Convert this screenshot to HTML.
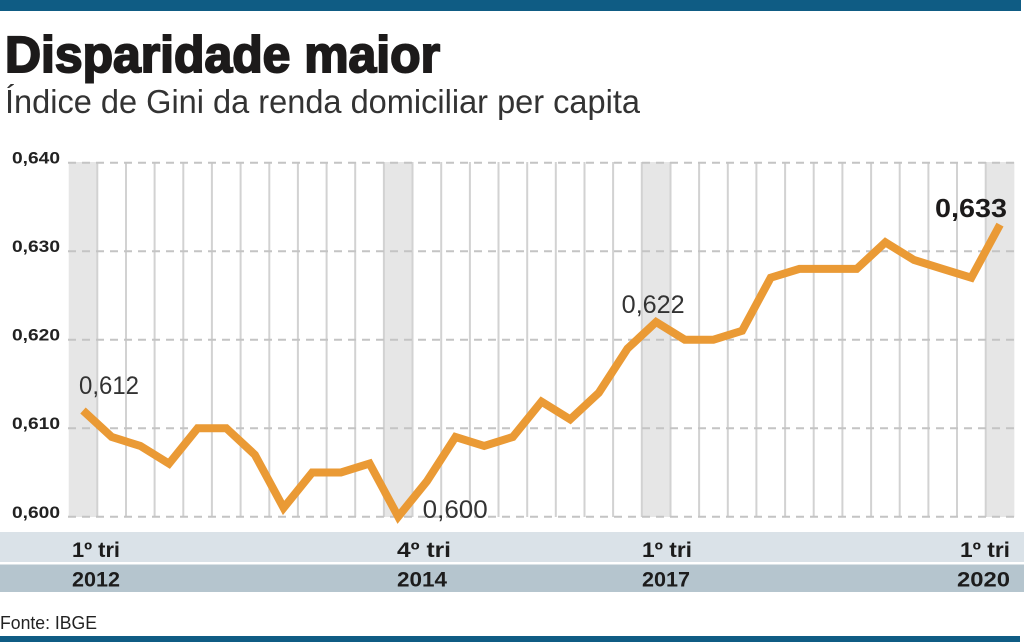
<!DOCTYPE html>
<html>
<head>
<meta charset="utf-8">
<style>
  html, body { margin:0; padding:0; background:#fff; }
  body { width:1024px; height:642px; overflow:hidden; }
  svg { display:block; }
  text { font-family: "Liberation Sans", "DejaVu Sans", sans-serif; }
</style>
</head>
<body>
<svg width="1024" height="642" viewBox="0 0 1024 642" xmlns="http://www.w3.org/2000/svg">
  <rect x="0" y="0" width="1024" height="642" fill="#ffffff"/>
  <!-- top bar -->
  <rect x="0" y="0" width="1021" height="11" fill="#0f5c84"/>

  <!-- title -->
  <text x="5" y="72" font-size="51" font-weight="bold" fill="#1c1a1a" stroke="#1c1a1a" stroke-width="2" textLength="435" lengthAdjust="spacingAndGlyphs">Disparidade maior</text>
  <text x="5" y="113" font-size="33" fill="#333" textLength="635" lengthAdjust="spacingAndGlyphs">Índice de Gini da renda domiciliar per capita</text>

  <!-- highlighted bands -->
  <g fill="#e6e6e6">
    <rect x="68.7" y="162" width="28.66" height="355"/>
    <rect x="383.9" y="162" width="28.66" height="355"/>
    <rect x="641.8" y="162" width="28.66" height="355"/>
    <rect x="985.7" y="162" width="28.66" height="355"/>
  </g>

  <!-- vertical grid lines -->
  <g stroke="#d2d2d2" stroke-width="2">
    <line x1="97.3" y1="162" x2="97.3" y2="517"/>
    <line x1="126.0" y1="162" x2="126.0" y2="517"/>
    <line x1="154.6" y1="162" x2="154.6" y2="517"/>
    <line x1="183.3" y1="162" x2="183.3" y2="517"/>
    <line x1="211.9" y1="162" x2="211.9" y2="517"/>
    <line x1="240.6" y1="162" x2="240.6" y2="517"/>
    <line x1="269.3" y1="162" x2="269.3" y2="517"/>
    <line x1="297.9" y1="162" x2="297.9" y2="517"/>
    <line x1="326.6" y1="162" x2="326.6" y2="517"/>
    <line x1="355.2" y1="162" x2="355.2" y2="517"/>
    <line x1="383.9" y1="162" x2="383.9" y2="517"/>
    <line x1="412.5" y1="162" x2="412.5" y2="517"/>
    <line x1="441.2" y1="162" x2="441.2" y2="517"/>
    <line x1="469.9" y1="162" x2="469.9" y2="517"/>
    <line x1="498.5" y1="162" x2="498.5" y2="517"/>
    <line x1="527.2" y1="162" x2="527.2" y2="517"/>
    <line x1="555.8" y1="162" x2="555.8" y2="517"/>
    <line x1="584.5" y1="162" x2="584.5" y2="517"/>
    <line x1="613.1" y1="162" x2="613.1" y2="517"/>
    <line x1="641.8" y1="162" x2="641.8" y2="517"/>
    <line x1="670.5" y1="162" x2="670.5" y2="517"/>
    <line x1="699.1" y1="162" x2="699.1" y2="517"/>
    <line x1="727.8" y1="162" x2="727.8" y2="517"/>
    <line x1="756.4" y1="162" x2="756.4" y2="517"/>
    <line x1="785.1" y1="162" x2="785.1" y2="517"/>
    <line x1="813.7" y1="162" x2="813.7" y2="517"/>
    <line x1="842.4" y1="162" x2="842.4" y2="517"/>
    <line x1="871.1" y1="162" x2="871.1" y2="517"/>
    <line x1="899.7" y1="162" x2="899.7" y2="517"/>
    <line x1="928.4" y1="162" x2="928.4" y2="517"/>
    <line x1="957.0" y1="162" x2="957.0" y2="517"/>
    <line x1="985.7" y1="162" x2="985.7" y2="517"/>
  </g>

  <!-- dashed horizontal grid -->
  <g stroke="#c4c4c4" stroke-width="2" stroke-dasharray="8,6">
    <line x1="68" y1="162.7" x2="1016" y2="162.7"/>
    <line x1="68" y1="251.2" x2="1016" y2="251.2"/>
    <line x1="68" y1="339.7" x2="1016" y2="339.7"/>
    <line x1="68" y1="428.2" x2="1016" y2="428.2"/>
    <line x1="68" y1="516.7" x2="1016" y2="516.7"/>
  </g>

  <!-- y labels -->
  <g font-size="17" font-weight="bold" fill="#222" text-anchor="end">
    <text x="60" y="163.5" textLength="48" lengthAdjust="spacingAndGlyphs">0,640</text>
    <text x="60" y="252" textLength="48" lengthAdjust="spacingAndGlyphs">0,630</text>
    <text x="60" y="340.5" textLength="48" lengthAdjust="spacingAndGlyphs">0,620</text>
    <text x="60" y="429" textLength="48" lengthAdjust="spacingAndGlyphs">0,610</text>
    <text x="60" y="518" textLength="48" lengthAdjust="spacingAndGlyphs">0,600</text>
  </g>

  <!-- series -->
  <polyline fill="none" stroke="#ea9a35" stroke-width="8" stroke-linejoin="miter" stroke-miterlimit="4"
    points="83.0,410.5 111.7,437.0 140.3,445.9 169.0,463.6 197.6,428.2 226.3,428.2 254.9,454.8 283.6,507.9 312.2,472.5 340.9,472.5 369.6,463.6 398.2,516.7 426.9,481.3 455.5,437.0 484.2,445.9 512.8,437.0 541.5,401.6 570.2,419.4 598.8,392.8 627.5,348.6 656.1,322.0 684.8,339.7 713.4,339.7 742.1,330.8 770.7,277.7 799.4,268.9 828.1,268.9 856.7,268.9 885.4,242.3 914.0,260.0 942.7,268.9 971.3,277.7 1000.0,224.6"/>

  <!-- annotations -->
  <g font-size="25" fill="#333">
    <text x="79" y="394" textLength="60" lengthAdjust="spacingAndGlyphs">0,612</text>
    <text x="422.7" y="518" textLength="65" lengthAdjust="spacingAndGlyphs">0,600</text>
    <text x="621.7" y="313" textLength="63" lengthAdjust="spacingAndGlyphs">0,622</text>
  </g>
  <text x="935" y="217" font-size="26" font-weight="bold" fill="#1c1a1a" textLength="72" lengthAdjust="spacingAndGlyphs">0,633</text>

  <!-- x label rows -->
  <rect x="0" y="532" width="1024" height="30" fill="#dae2e8"/>
  <rect x="0" y="564.5" width="1024" height="27.5" fill="#b5c5ce"/>
  <g font-size="21" font-weight="bold" fill="#1c1c1c">
    <text x="72" y="557" textLength="48" lengthAdjust="spacingAndGlyphs">1º tri</text>
    <text x="72" y="586.5" textLength="48" lengthAdjust="spacingAndGlyphs">2012</text>
    <text x="397" y="557" textLength="54" lengthAdjust="spacingAndGlyphs">4º tri</text>
    <text x="397" y="586.5" textLength="50" lengthAdjust="spacingAndGlyphs">2014</text>
    <text x="642" y="557" textLength="50" lengthAdjust="spacingAndGlyphs">1º tri</text>
    <text x="642" y="586.5" textLength="48" lengthAdjust="spacingAndGlyphs">2017</text>
    <text x="960" y="557" textLength="50" lengthAdjust="spacingAndGlyphs">1º tri</text>
    <text x="957" y="586.5" textLength="53" lengthAdjust="spacingAndGlyphs">2020</text>
  </g>

  <!-- source -->
  <text x="0" y="629" font-size="18" fill="#222" textLength="97" lengthAdjust="spacingAndGlyphs">Fonte: IBGE</text>

  <!-- bottom bar -->
  <rect x="0" y="636" width="1020" height="6" fill="#0f5c84"/>
</svg>
</body>
</html>
